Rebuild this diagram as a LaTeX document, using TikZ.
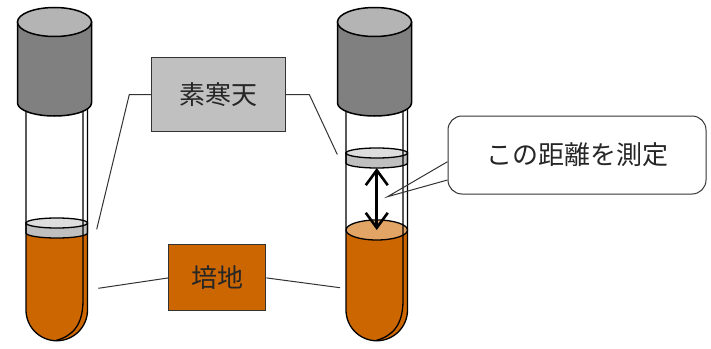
\documentclass[tikz,border=0pt]{standalone}
\usepackage{fontspec}
\newfontfamily\jpfont{Noto Sans CJK JP}
\usetikzlibrary{arrows.meta}

\definecolor{capbody}{RGB}{128,128,128}
\definecolor{captop}{RGB}{180,180,180}
\definecolor{agartop}{RGB}{222,222,222}
\definecolor{agarside}{RGB}{192,192,192}
\definecolor{broth}{RGB}{204,102,0}
\definecolor{brothtop}{RGB}{227,165,102}
\definecolor{boxgrey}{RGB}{192,192,192}

% glass tube: left wall, round bottom, double right wall
\newcommand\tubeglass{%
  \draw[glass] (26,100) -- (26,310) arc[start angle=180,end angle=0,radius=30.75] -- (87.5,100);
  \draw[glass] (83,100) -- (83,300) .. controls (83,326) and (72,336) .. (56,340.5);
}
% screw cap
\newcommand\tubecap{%
  \draw[capline,fill=capbody] (17.5,22) -- (17.5,103)
    arc[start angle=180,end angle=0,x radius=37,y radius=13] -- (91.5,22) -- cycle;
  \draw[capline,fill=captop] (54.5,22) ellipse[x radius=37,y radius=14.5];
}
% agar disk with its top face at height #1
\newcommand\agardisk[1]{%
  \draw[glass,fill=agarside] (26,#1) -- (26,#1+10)
    arc[start angle=180,end angle=0,x radius=30.75,y radius=5] -- (87.5,#1) -- cycle;
  \draw[glass,fill=agartop] (56.75,#1) ellipse[x radius=30.75,y radius=5];
}

\begin{document}
\begin{tikzpicture}[x=1pt,y=-1pt,
  glass/.style={draw=black,line width=1.3pt},
  capline/.style={draw=black,line width=1.5pt},
  tag/.style={draw=black!80,line width=1pt,inner sep=0pt,
    font=\jpfont\fontsize{26}{30}\selectfont,text=black!85},
  leader/.style={draw=black!80,line width=1pt},
  gaparrow/.style={draw=black,line width=2.6pt,
    {Straight Barb[length=15pt,width=22pt]}-{Straight Barb[length=15pt,width=22pt]}}]
\useasboundingbox[fill=white] (0,0) rectangle (711,348);

% left tube: broth under a thin agar layer
\fill[broth] (26,228) -- (26,310) arc[start angle=180,end angle=0,radius=30.75] -- (87.5,228) -- cycle;
\agardisk{223}
\tubeglass
\tubecap

% right tube: agar layer raised above the broth
\begin{scope}[xshift=320pt]
  \fill[broth] (26,230) -- (26,310) arc[start angle=180,end angle=0,radius=30.75] -- (87.5,230) -- cycle;
  \draw[glass,fill=brothtop] (56.75,230) ellipse[x radius=30.75,y radius=10];
  \agardisk{153}
  \tubeglass
  \tubecap
\end{scope}

% distance between agar layer and broth surface
\coordinate (gapTop) at (376.75,168);
\coordinate (gapBot) at (376.75,230);
\draw[gaparrow] (gapTop) -- (gapBot);

% leader end points on the tubes
\coordinate (agarL) at (96.7,229.3);
\coordinate (agarR) at (337.3,154.5);
\coordinate (brothL) at (98.3,288.3);
\coordinate (brothR) at (340,287.7);
\coordinate (tip) at (387.5,196.7);

% labels
\node[tag,fill=boxgrey,minimum width=134pt,minimum height=74pt] (agar) at (218.7,94.5) {素寒天};
\node[tag,fill=broth,minimum width=97pt,minimum height=66pt] (brothbox) at (217.4,277.9) {培地};
\node[tag,fill=white,rounded corners=14pt,minimum width=258pt,minimum height=78pt] (callout) at (577,155) {この距離を測定};

\draw[leader] (agar.west) -- (129.3,94.5) -- (agarL);
\draw[leader] (agar.east) -- (309.3,94.5) -- (agarR);
\draw[leader] (brothbox.west) -- (brothL);
\draw[leader] (brothbox.east) -- (brothR);

% callout tail
\fill[white] (tip) -- (callout.west |- 0,161.7) ++(1.5,0) -- ++(0,18.3) -- cycle;
\draw[leader] (callout.west |- 0,161.7) -- (tip) -- (callout.west |- 0,180);
\end{tikzpicture}
\end{document}
